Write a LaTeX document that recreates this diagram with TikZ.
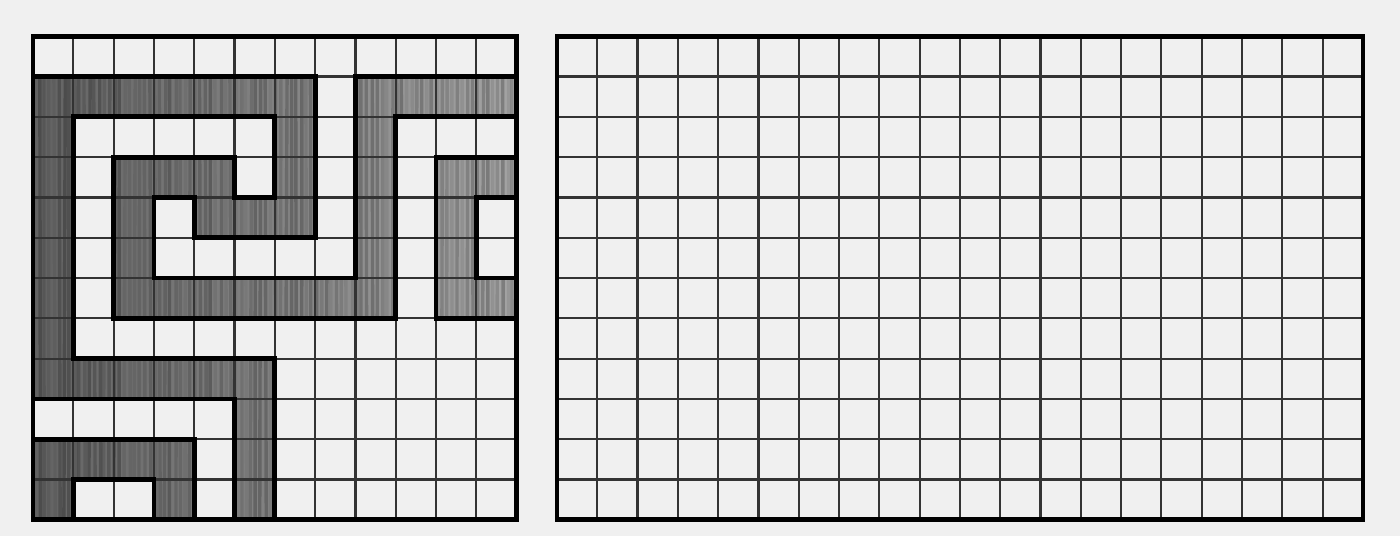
\documentclass[tikz,border=0pt]{standalone}
\usepackage{xcolor}
\usepackage{tikz}

\definecolor{carta}{HTML}{F0F0F0}
\definecolor{scuro}{HTML}{626262}
\definecolor{chiaro}{HTML}{A4A4A4}
\tikzset{
  griglia/.style={line width=0.75pt, black!80},
  bordo/.style={line width=1.7pt, black, line join=miter},
}

\begin{document}
\begin{tikzpicture}[scale=0.5]
  % --- foglio e margini ---
  \fill[carta] (-0.82,-0.40) rectangle (33.92,12.90);
  \useasboundingbox (-0.82,-0.40) rectangle (33.92,12.90);

  % --- greca 12 x 12 (celle in grigio) ---
  \begin{scope}
    \clip (0,11) -- (7,11) -- (7,7) -- (4,7) -- (4,8) -- (3,8) -- (3,6)
          -- (8,6) -- (8,11) -- (12,11) -- (12,10) -- (9,10) -- (9,5)
          -- (2,5) -- (2,9) -- (5,9) -- (5,8) -- (6,8) -- (6,10) -- (1,10)
          -- (1,4) -- (6,4) -- (6,0) -- (5,0) -- (5,3) -- (0,3) -- cycle
          (0,2) -- (4,2) -- (4,0) -- (3,0) -- (3,1) -- (1,1) -- (1,0)
          -- (0,0) -- cycle
          (10,9) -- (12,9) -- (12,8) -- (11,8) -- (11,6) -- (12,6)
          -- (12,5) -- (10,5) -- cycle;
    \shade[left color=scuro, right color=chiaro] (0,0) rectangle (12,12);
    % venatura del legno
    \pgfmathsetseed{7}
    \foreach \i in {0,...,95} {
      \pgfmathsetmacro{\op}{0.05+0.2*rnd}
      \draw[black, opacity=\op, line width=1.2pt] ({\i/8+0.06*rnd},0) -- ({\i/8+0.06*rnd},12);
    }
  \end{scope}
  \draw[griglia] (0,0) grid (12,12);

  % --- contorni spessi delle figure ---
  \draw[bordo] (0,11) -- (7,11) -- (7,7) -- (4,7) -- (4,8) -- (3,8) -- (3,6)
          -- (8,6) -- (8,11) -- (12,11) -- (12,10) -- (9,10) -- (9,5)
          -- (2,5) -- (2,9) -- (5,9) -- (5,8) -- (6,8) -- (6,10) -- (1,10)
          -- (1,4) -- (6,4) -- (6,0) -- (5,0) -- (5,3) -- (0,3) -- cycle;
  \draw[bordo] (0,2) -- (4,2) -- (4,0) -- (3,0) -- (3,1) -- (1,1) -- (1,0)
          -- (0,0) -- cycle;
  \draw[bordo] (10,9) -- (12,9) -- (12,8) -- (11,8) -- (11,6) -- (12,6)
          -- (12,5) -- (10,5) -- cycle;
  \draw[bordo] (0,0) rectangle (12,12);

  % --- griglia vuota 20 x 12 ---
  \draw[griglia] (13,0) grid (33,12);
  \draw[bordo] (13,0) rectangle (33,12);
\end{tikzpicture}
\end{document}
